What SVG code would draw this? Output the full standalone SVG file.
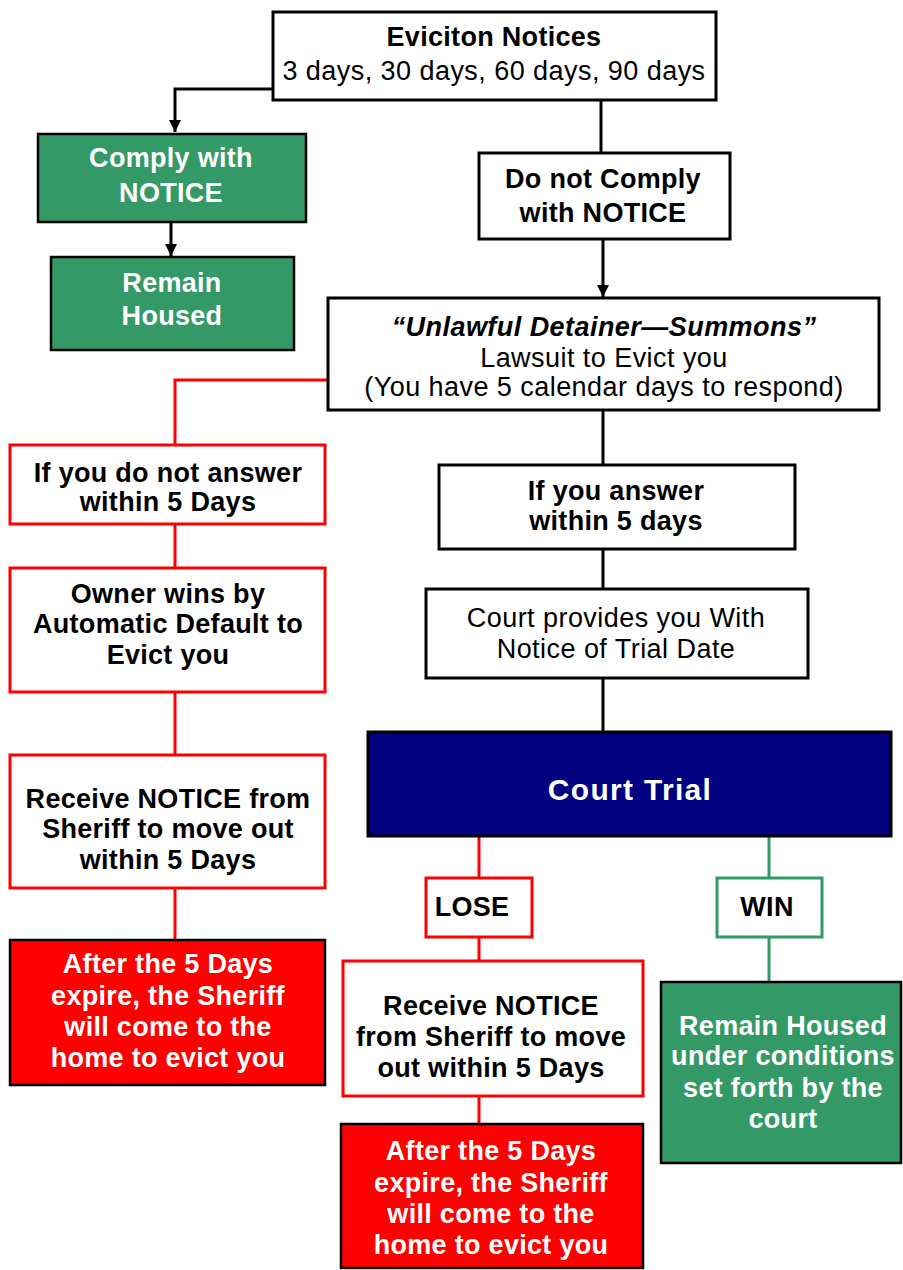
<svg xmlns="http://www.w3.org/2000/svg" width="903" height="1270" viewBox="0 0 903 1270">
<defs>
<marker id="arr" viewBox="0 0 10 10" refX="10" refY="5" markerWidth="4" markerHeight="4" orient="auto" markerUnits="strokeWidth">
<path d="M0,0 L10,5 L0,10 z" fill="#000"/>
</marker>
<style>
text{font-family:"Liberation Sans",Arial,sans-serif;font-size:27px;letter-spacing:0.45px;text-anchor:middle}
.b{font-weight:bold;letter-spacing:0.3px}
.w{fill:#fff}
.bi{font-weight:bold;font-style:italic;letter-spacing:0.45px}
.kbox{fill:#fff;stroke:#000;stroke-width:3}
.rbox{fill:#fff;stroke:#f00;stroke-width:3}
.gbox{fill:#fff;stroke:#339966;stroke-width:3}
.green{fill:#339966;stroke:#000;stroke-width:2.5}
.red{fill:#f00;stroke:#000;stroke-width:2.5}
.navy{fill:#000080;stroke:#000;stroke-width:3}
.kl{fill:none;stroke:#000;stroke-width:3}
.rl{fill:none;stroke:#f00;stroke-width:3}
.gl{fill:none;stroke:#339966;stroke-width:3}
</style>
</defs>
<rect width="903" height="1270" fill="#fff"/>
<g id="connectors">
<path class="kl" d="M273,89 H175 V132" marker-end="url(#arr)"/>
<path class="kl" d="M171,222 V256" marker-end="url(#arr)"/>
<path class="kl" d="M601,100 V153"/>
<path class="kl" d="M603,239 V297" marker-end="url(#arr)"/>
<path class="rl" d="M328,380 H175 V445"/>
<path class="rl" d="M175,524 V568"/>
<path class="rl" d="M175,692 V755"/>
<path class="rl" d="M175,888 V940"/>
<path class="kl" d="M603,410 V465"/>
<path class="kl" d="M603,549 V589"/>
<path class="kl" d="M603,678 V732"/>
<path class="rl" d="M479,836 V878"/>
<path class="rl" d="M479,937 V961"/>
<path class="rl" d="M479,1096 V1124"/>
<path class="gl" d="M769,836 V878"/>
<path class="gl" d="M769,937 V982"/>
</g>
<g id="notices">
<rect class="kbox" x="273" y="12" width="443" height="88"/>
<text class="b" x="494" y="46">Eviciton Notices</text>
<text x="494" y="80">3 days, 30 days, 60 days, 90 days</text>
</g>
<g id="comply">
<rect class="green" x="38" y="134" width="268" height="88"/>
<text class="b w" x="171" y="167">Comply with</text>
<text class="b w" x="171" y="202">NOTICE</text>
</g>
<g id="remain1">
<rect class="green" x="51" y="257" width="243" height="93"/>
<text class="b w" x="172" y="292">Remain</text>
<text class="b w" x="172" y="325">Housed</text>
</g>
<g id="donot">
<rect class="kbox" x="479" y="153" width="251" height="86"/>
<text class="b" x="603" y="188">Do not Comply</text>
<text class="b" x="603" y="222">with NOTICE</text>
</g>
<g id="unlawful">
<rect class="kbox" x="328" y="298" width="551" height="112"/>
<text class="bi" x="604" y="336">“Unlawful Detainer—Summons”</text>
<text x="604" y="367">Lawsuit to Evict you</text>
<text x="604" y="396">(You have 5 calendar days to respond)</text>
</g>
<g id="noanswer">
<rect class="rbox" x="10" y="445" width="315" height="79"/>
<text class="b" x="168" y="482">If you do not answer</text>
<text class="b" x="168" y="511">within 5 Days</text>
</g>
<g id="owner">
<rect class="rbox" x="10" y="568" width="315" height="124"/>
<text class="b" x="168" y="603">Owner wins by</text>
<text class="b" x="168" y="633">Automatic Default to</text>
<text class="b" x="168" y="664">Evict you</text>
</g>
<g id="receive1">
<rect class="rbox" x="10" y="755" width="315" height="133"/>
<text class="b" x="168" y="808">Receive NOTICE from</text>
<text class="b" x="168" y="838">Sheriff to move out</text>
<text class="b" x="168" y="869">within 5 Days</text>
</g>
<g id="after1">
<rect class="red" x="10" y="940" width="315" height="145"/>
<text class="b w" x="168" y="973">After the 5 Days</text>
<text class="b w" x="168" y="1005">expire, the Sheriff</text>
<text class="b w" x="168" y="1036">will come to the</text>
<text class="b w" x="168" y="1067">home to evict you</text>
</g>
<g id="answer">
<rect class="kbox" x="439" y="465" width="356" height="84"/>
<text class="b" x="616" y="500">If you answer</text>
<text class="b" x="616" y="530">within 5 days</text>
</g>
<g id="provides">
<rect class="kbox" x="426" y="589" width="382" height="89"/>
<text x="616" y="627">Court provides you With</text>
<text x="616" y="658">Notice of Trial Date</text>
</g>
<g id="trial">
<rect class="navy" x="368" y="732" width="523" height="104"/>
<text class="b w" x="630" y="800" style="font-size:30px;letter-spacing:1.3px">Court Trial</text>
</g>
<g id="lose">
<rect class="rbox" x="426" y="878" width="106" height="59"/>
<text class="b" x="472" y="916">LOSE</text>
</g>
<g id="win">
<rect class="gbox" x="717" y="878" width="105" height="59"/>
<text class="b" x="767" y="916">WIN</text>
</g>
<g id="receive2">
<rect class="rbox" x="343" y="961" width="300" height="135"/>
<text class="b" x="491" y="1015">Receive NOTICE</text>
<text class="b" x="491" y="1046">from Sheriff to move</text>
<text class="b" x="491" y="1077">out within 5 Days</text>
</g>
<g id="after2">
<rect class="red" x="341" y="1124" width="302" height="144"/>
<text class="b w" x="491" y="1160">After the 5 Days</text>
<text class="b w" x="491" y="1192">expire, the Sheriff</text>
<text class="b w" x="491" y="1223">will come to the</text>
<text class="b w" x="491" y="1254">home to evict you</text>
</g>
<g id="remain2">
<rect class="green" x="661" y="982" width="240" height="181"/>
<text class="b w" x="783" y="1035">Remain Housed</text>
<text class="b w" x="783" y="1065">under conditions</text>
<text class="b w" x="783" y="1097">set forth by the</text>
<text class="b w" x="783" y="1128">court</text>
</g>
</svg>
